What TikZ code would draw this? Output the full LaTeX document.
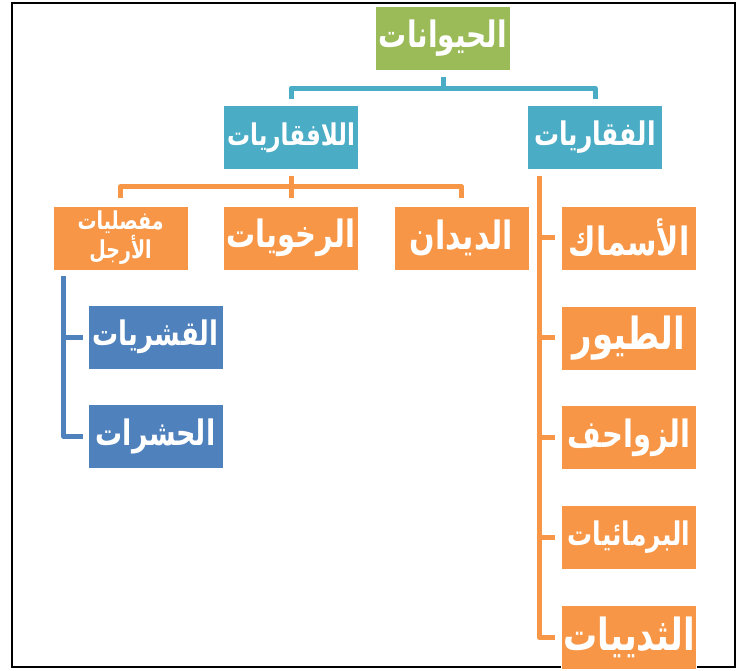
\documentclass[tikz,border=0pt]{standalone}
\usepackage{fontspec}
\usepackage{tikz}
\TeXXeTstate=1
\newfontfamily\arabicfont[Script=Arabic]{DejaVu Sans}
\newcommand{\artext}[1]{\scalebox{1}[1.3]{\beginR #1\endR}}
\definecolor{rootgreen}{RGB}{155, 187, 89}
\definecolor{classteal}{RGB}{75, 172, 198}
\definecolor{itemorange}{RGB}{247, 150, 70}
\definecolor{subblue}{RGB}{79, 129, 189}
\usetikzlibrary{positioning, calc}

\begin{document}
\begin{tikzpicture}[
    x=1pt, y=-1pt,
    box/.style={rectangle, minimum width=135pt, minimum height=64pt,
                inner sep=0pt, align=center, text=white, draw=white, thin,
                font=\arabicfont\bfseries\fontsize{26}{28}\selectfont},
    rootbox/.style={box, fill=rootgreen},
    classbox/.style={box, fill=classteal},
    orangebox/.style={box, fill=itemorange},
    bluebox/.style={box, fill=subblue},
    fs/.style={font=\arabicfont\bfseries\fontsize{#1}{#1}\selectfont},
    link/.style={line width=5pt, line join=round}
]
    \useasboundingbox (0,0) rectangle (743,670);
    \draw[line width=2.5pt] (12,3) rectangle (735,667);

    \node[rootbox, fs=28] (animals) at (443,38) {\artext{الحيوانات}};
    \node[classbox, fs=23, below=35pt of animals, xshift=-152pt] (invert) {\artext{اللافقاريات}};
    \node[classbox, fs=25, below=35pt of animals, xshift=152pt] (vert) {\artext{الفقاريات}};

    \node[orangebox, fs=29, below=36pt of invert] (molluscs) {\artext{الرخويات}};
    \node[orangebox, left=35pt of molluscs,
          font=\arabicfont\bfseries\fontsize{19}{27}\selectfont] (arthro) {\artext{مفصليات}\\\artext{الأرجل}};
    \node[orangebox, fs=30, right=35pt of molluscs] (worms) {\artext{الديدان}};

    \node[orangebox, fs=30, below=36pt of vert, xshift=34pt] (fish) {\artext{الأسماك}};
    \node[orangebox, fs=34, below=35.5pt of fish] (birds) {\artext{الطيور}};
    \node[orangebox, fs=29, below=35.5pt of birds] (reptiles) {\artext{الزواحف}};
    \node[orangebox, fs=25, below=35.5pt of reptiles] (amphibians) {\artext{البرمائيات}};
    \node[orangebox, fs=34, below=35.5pt of amphibians] (mammals) {\artext{الثدييات}};

    \node[bluebox, fs=26, below=35pt of arthro, xshift=35pt] (crust) {\artext{القشريات}};
    \node[bluebox, fs=27, below=35pt of crust] (insects) {\artext{الحشرات}};

    % root to classes
    \draw[link, classteal] ([yshift=-7pt]animals.south) -- ++(0,-11pt) -| ([yshift=6pt]invert.north);
    \draw[link, classteal] ([yshift=-7pt]animals.south) -- ++(0,-11pt) -| ([yshift=6pt]vert.north);

    % invertebrates
    \draw[link, itemorange] ([yshift=-6pt]invert.south) -- ++(0,-11pt) -| ([yshift=8pt]arthro.north);
    \draw[link, itemorange] ([yshift=-6pt]invert.south) -- ++(0,-11pt) -| ([yshift=8pt]molluscs.north);
    \draw[link, itemorange] ([yshift=-6pt]invert.south) -- ++(0,-11pt) -| ([yshift=8pt]worms.north);

    % vertebrates
    \coordinate (vspine) at ([xshift=12pt, yshift=-6pt]vert.south west);
    \draw[link, itemorange] (vspine) |- ([xshift=-6pt]mammals.west);
    \draw[link, itemorange] (vspine |- fish.west) -- ([xshift=-6pt]fish.west);
    \draw[link, itemorange] (vspine |- birds.west) -- ([xshift=-6pt]birds.west);
    \draw[link, itemorange] (vspine |- reptiles.west) -- ([xshift=-6pt]reptiles.west);
    \draw[link, itemorange] (vspine |- amphibians.west) -- ([xshift=-6pt]amphibians.west);

    % arthropods
    \coordinate (aspine) at ([xshift=11pt, yshift=-6pt]arthro.south west);
    \draw[link, subblue] (aspine) |- ([xshift=-5pt]insects.west);
    \draw[link, subblue] (aspine |- crust.west) -- ([xshift=-5pt]crust.west);
\end{tikzpicture}
\end{document}
